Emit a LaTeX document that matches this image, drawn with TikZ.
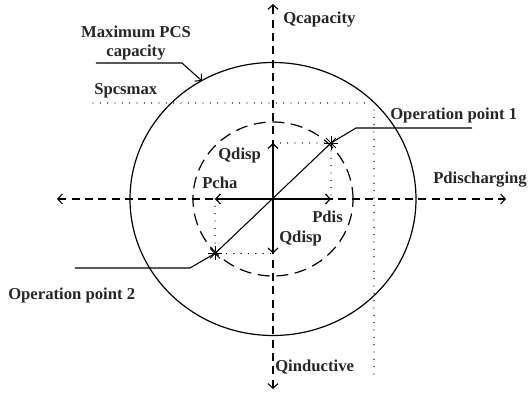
\documentclass[tikz,border=0pt]{standalone}
\usepackage{fontspec}
\setmainfont{Liberation Serif}
\usetikzlibrary{arrows.meta}
\begin{document}
\begin{tikzpicture}[x=7.5pt,y=7.5pt,
  >={Straight Barb[length=3.5pt,width=7.5pt]},
  lbl/.style={inner sep=0, anchor=west, font=\fontsize{12.5}{14}\selectfont\bfseries, text=black!85},
  axis/.style={line width=0.8pt, dash pattern=on 6pt off 4pt},
  vec/.style={line width=0.9pt, ->},
  dots/.style={line width=1.1pt, line cap=round, dash pattern=on 0pt off 5.5pt},
  lead/.style={line width=0.8pt}]
\useasboundingbox (-27.3,-19.6) rectangle (25.8,19.9);
% axes
\coordinate (o) at (0,0);
\coordinate (pl) at (-21.6,0);
\coordinate (pr) at (23.3,0);
\coordinate (qt) at (0,19.5);
\coordinate (qb) at (0,-19.0);
\draw[axis, <->] (pl) -- (pr);
\draw[axis, <->] (qb) -- (qt);
% capacity circles
\draw[line width=0.9pt] (o) ellipse [x radius=14.3, y radius=13.65];
\draw[line width=0.9pt, dash pattern=on 9pt off 5pt] (o) ellipse [x radius=8, y radius=7.7];
% dispatch vectors
\coordinate (qu) at (0,5.6);
\coordinate (qd) at (0,-5.45);
\coordinate (pc) at (-5.8,0);
\coordinate (pd) at (5.8,0);
\draw[vec] (o) -- (qu);
\draw[vec] (o) -- (qd);
\draw[vec] (o) -- (pc);
\draw[vec] (o) -- (pd);
\coordinate (op1) at (5.8,5.6);
\coordinate (op2) at (-5.8,-5.45);
\draw[lead] (op2) -- (op1);
\draw[dots] (qu) -- (op1) -- (pd);
\draw[dots] (pc) -- (op2) -- (qd);
\foreach \p in {op1,op2}
  \foreach \a in {0,45,90,135}
    \draw[line width=0.6pt] (\p) ++(\a:0.7) -- ++(\a+180:1.4);
% leaders
\coordinate (l1a) at (8.3,7.1);
\coordinate (l1b) at (19.9,7.1);
\draw[lead] (op1) -- (l1a) -- (l1b);
\coordinate (l2a) at (-8.3,-6.9);
\coordinate (l2b) at (-19.8,-6.9);
\draw[lead] (op2) -- (l2a) -- (l2b);
\coordinate (m1) at (-17.7,13.6);
\coordinate (m2) at (-9.1,13.6);
\coordinate (m3) at (-7.1,11.8);
\draw[lead, ->] (m1) -- (m2) -- (m3);
% Spcsmax limits
\coordinate (s1) at (-18,9.6);
\coordinate (s2) at (9.4,9.6);
\draw[dots] (s1) -- (s2);
\coordinate (d1) at (10.1,8.9);
\coordinate (d2) at (10.1,-17.6);
\draw[dots] (d1) -- (d2);
% labels
\node[lbl, anchor=center, align=center] (tmax) at (-13.7,15.6) {Maximum PCS\\capacity};
\node[lbl] (tsp) at (-17.9,10.8) {Spcsmax};
\node[lbl] (tqc) at (1.0,17.9) {Qcapacity};
\node[lbl] (top1) at (11.7,8.4) {Operation point 1};
\node[lbl] (tpdc) at (16.0,1.9) {Pdischarging};
\node[lbl] (tpd) at (3.9,-1.8) {Pdis};
\node[lbl] (tqd2) at (0.6,-3.9) {Qdisp};
\node[lbl] (tqd1) at (-5.5,4.4) {Qdisp};
\node[lbl] (tpc) at (-7.1,1.6) {Pcha};
\node[lbl] (top2) at (-26.5,-9.6) {Operation point 2};
\node[lbl] (tqi) at (0.2,-16.8) {Qinductive};
\end{tikzpicture}
\end{document}
